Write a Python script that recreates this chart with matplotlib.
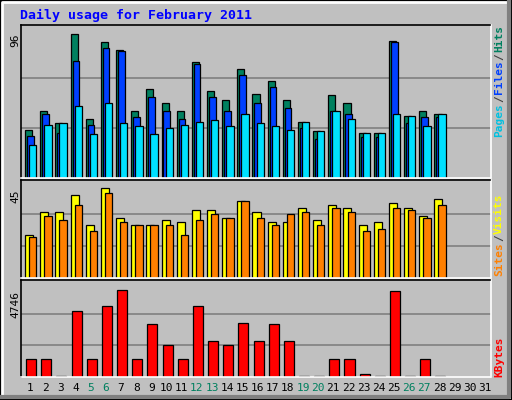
import matplotlib
matplotlib.use("Agg")
import matplotlib.pyplot as plt
import numpy as np

days = list(range(1, 32))
hits  = [31,43,35,92,38,87,82,43,57,48,43,74,56,50,70,54,62,50,36,30,53,48,29,29,88,40,43,41]
files = [27,41,29,75,34,83,81,39,52,43,38,73,52,43,66,48,58,45,32,25,43,41,26,26,87,35,39,39]
pages = [21,34,35,46,28,48,35,33,28,32,34,36,37,33,41,35,33,31,36,30,43,38,29,29,41,40,33,41]
visits = [20,31,31,39,25,42,28,25,25,27,26,32,32,28,36,31,26,26,33,27,34,33,25,26,35,33,29,37]
sites  = [19,29,27,34,22,40,26,25,25,25,20,27,30,28,36,28,25,30,31,25,33,31,22,23,33,32,28,34]
kbytes = [911,911,0,3308,911,3548,4363,911,2637,1582,911,3548,1774,1582,2685,1774,2637,1774,0,0,911,911,144,0,4315,0,911,0]
weekend = {5,6,12,13,19,20,26,27}

W, H = 512, 400
BG = "#C0C0C0"
fig = plt.figure(figsize=(W/100, H/100), dpi=100, facecolor=BG)
mono = "DejaVu Sans Mono"

def ax_at(x0, y0, x1, y1):
    return fig.add_axes([x0/W, 1-y1/H, (x1-x0)/W, (y1-y0)/H])

def style(ax, ymax):
    ax.set_facecolor(BG)
    ax.set_xlim(0, 31)
    ax.set_ylim(0, ymax*1.02)
    ax.set_xticks([]); ax.set_yticks([])
    for y in (ymax/3, 2*ymax/3):
        ax.axhline(y, color="#808080", lw=1.2, zorder=0)
    ax.spines["top"].set_color("black"); ax.spines["left"].set_color("black")
    ax.spines["bottom"].set_color("white"); ax.spines["right"].set_color("white")
    for s in ax.spines.values(): s.set_linewidth(1.2)

n = len(hits)
x = np.arange(n)
kw = dict(align="edge", edgecolor="black", linewidth=0.9)

a1 = ax_at(20.5, 25, 490.5, 178)
style(a1, 96)
a1.bar(x+0.30, hits, 0.47, color="#00805F", **kw)
a1.bar(x+0.43, files, 0.44, color="#0040FF", **kw)
a1.bar(x+0.57, pages, 0.48, color="#00E0FF", **kw)

a2 = ax_at(20.5, 180, 490.5, 278)
style(a2, 45)
a2.bar(x+0.30, visits, 0.53, color="#FFFF00", **kw)
a2.bar(x+0.57, sites, 0.48, color="#FF8000", **kw)

a3 = ax_at(20.5, 280, 490.5, 377)
style(a3, 4746)
kb_plot = [max(v, 40) for v in kbytes]
a3.bar(x+0.37, kb_plot, 0.66, color="#FF0000", **kw)

fig.text(20/W, 1-15/H, "Daily usage for February 2011", color="#0000FF",
         family=mono, weight="bold", fontsize=9.5, va="center")
for y, t in [(40, "96"), (196, "45"), (305, "4746")]:
    fig.text(15/W, 1-y/H, t, rotation=90, family=mono, fontsize=8, ha="center", va="center")

renderer = fig.canvas.get_renderer()
def vlabel(parts, ybottom):
    y = ybottom
    for t, c in parts:
        txt = fig.text(499/W, 1-y/H, t, rotation=90, family=mono, weight="bold",
                       fontsize=8, color=c, ha="center", va="bottom")
        bb = txt.get_window_extent(renderer)
        y -= bb.height + 1
vlabel([("Pages", "#00C0E0"), ("/", "#404040"), ("Files", "#0040FF"), ("/", "#404040"), ("Hits", "#00805F")], 137)
vlabel([("Sites", "#FF8000"), ("/", "#404040"), ("Visits", "#FFFF00")], 276)
vlabel([("KBytes", "#FF0000")], 377)

for d in days:
    fig.text((20.5 + (d-0.5)*470/31 + 2)/W, 1-388/H, str(d), family=mono, fontsize=8,
             ha="center", va="center", color="#00805F" if d in weekend else "black")

fig.add_artist(plt.Rectangle((0.5/W, 0.5/H), 1-1/W, 1-1/H, transform=fig.transFigure,
                             fill=False, edgecolor="black", lw=1.5))
fig.add_artist(plt.Line2D([2/W, 2/W, 1-3/W], [3/H, 1-2/H, 1-2/H], transform=fig.transFigure, color="white", lw=2))
fig.add_artist(plt.Line2D([2/W, 1-3/W, 1-3/W], [3/H, 3/H, 1-2/H], transform=fig.transFigure, color="#808080", lw=3))

fig.savefig("out.png", dpi=100, facecolor=BG)
